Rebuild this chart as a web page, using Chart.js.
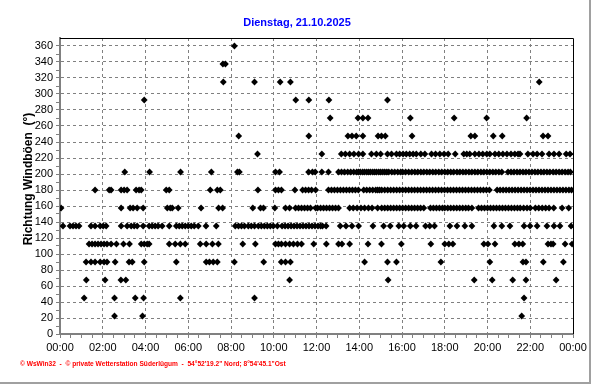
<!DOCTYPE html>
<html><head><meta charset="utf-8">
<script src="https://cdn.jsdelivr.net/npm/chart.js@4.4.1/dist/chart.umd.min.js"></script>
<style>
html,body{margin:0;padding:0;background:#fff;}
#wrap{position:relative;width:592px;height:384px;overflow:hidden;background:#fff;}
#frame{position:absolute;left:0;top:0;width:589px;height:382px;border-right:2px solid #a0a0a0;border-bottom:2px solid #a0a0a0;pointer-events:none;}
canvas{position:absolute;left:0;top:0;}
</style></head><body>
<div id="wrap"><canvas id="c" width="592" height="384"></canvas><div id="frame"></div></div>
<script>
const titleText = 'Dienstag, 21.10.2025';
const yAxisTitle = 'Richtung Windböen  (°)';
const footerText = '\u00A9 WsWin32  -  \u00A9 private Wetterstation Süderlügum  -  54°52\'19.2" Nord; 8°54\'45.1"Ost';
const xTickLabels = ['00:00','02:00','04:00','06:00','08:00','10:00','12:00','14:00','16:00','18:00','20:00','22:00','00:00'];

// times (decimal hours) of the gust direction readings, per direction level
const t360 = [8.16];
const t337 = [7.62, 7.74];
const t315 = [7.64, 9.10, 10.30, 10.78, 22.42];
const t292 = [3.94, 11.03, 11.64, 12.58, 15.32];
const t270 = [12.64, 13.94, 14.17, 14.41, 16.39, 18.44, 19.96, 21.83];
const t247 = [8.36, 11.64, 13.47, 13.66, 13.86, 14.17, 14.88, 15.04, 15.22, 16.47, 19.22, 19.41, 20.27, 20.69, 22.60, 22.83];
const t225 = [9.24, 12.25, 13.16, 13.35, 13.55, 13.75, 13.97, 14.17, 14.57, 14.80, 15.00, 15.32, 15.51, 15.74, 15.89, 16.05, 16.20, 16.36, 16.52, 16.67, 16.88, 17.07, 17.38, 17.57, 17.77, 17.97, 18.16, 18.49, 18.89, 19.03, 19.17, 19.41, 19.60, 19.78, 19.97, 20.11, 20.35, 20.53, 20.72, 20.91, 21.10, 21.28, 21.43, 21.52, 21.89, 22.13, 22.32, 22.55, 22.88, 23.11, 23.35, 23.68, 23.86];
const t202 = [3.03, 4.19, 5.64, 7.08, 8.30, 8.39, 10.08, 10.27, 11.63, 11.81, 11.94, 12.25, 12.56,
  13.03, 13.17, 13.31, 13.46, 13.60, 13.74, 13.88, 13.97, 14.05, 14.16, 14.25, 14.35, 14.44, 14.53, 14.63, 14.72, 14.81, 14.91, 15.00, 15.10, 15.19, 15.29, 15.38, 15.52, 15.66, 15.80, 15.94, 16.03, 16.17, 16.31, 16.46, 16.60, 16.74, 16.88, 17.02, 17.16, 17.30, 17.44, 17.58, 17.72, 17.86, 18.00, 18.14, 18.28, 18.42, 18.57, 18.71, 18.85, 18.99, 19.13, 19.27, 19.41, 19.55, 19.69, 19.83, 19.97, 20.11, 20.25, 20.39, 20.53, 20.67, 20.96, 21.10, 21.24, 21.38, 21.52, 21.66, 21.80, 21.94, 22.08, 22.22, 22.36, 22.50, 22.64, 22.78, 22.92, 23.07, 23.21, 23.35, 23.49, 23.63, 23.77, 23.88];
const t180 = [1.64, 2.30, 2.39, 2.86, 3.00, 3.14, 3.56, 3.70, 3.80, 4.97, 5.11, 7.03, 7.36, 7.50, 9.26, 10.08, 10.22, 10.36, 10.99, 11.35, 11.49, 11.63, 11.77, 11.96,
  12.56, 12.70, 12.84, 12.98, 13.12, 13.26, 13.40, 13.54, 13.68, 13.82, 13.96, 14.21, 14.35, 14.49, 14.63, 14.77, 14.86, 14.95, 15.05, 15.19, 15.33, 15.47, 15.61, 15.75, 15.89, 16.03, 16.17, 16.31, 16.45, 16.59, 16.73, 16.87, 17.01, 17.15, 17.29, 17.43, 17.57, 17.71, 17.85, 17.99, 18.13, 18.27, 18.41, 18.55, 18.69, 18.83, 18.97, 19.11, 19.25, 19.39, 19.53, 19.67, 19.81, 19.95, 20.09, 20.45, 20.59, 20.73, 20.87, 21.01, 21.15, 21.29, 21.43, 21.57, 21.71, 21.85, 21.99, 22.13, 22.27, 22.41, 22.55, 22.69, 22.83, 22.97, 23.11, 23.25, 23.39, 23.53, 23.67, 23.81, 23.93];
const t157 = [0.05, 2.86, 3.28, 3.42, 3.61, 3.89, 5.02, 5.16, 5.25, 5.53, 6.60, 7.42, 7.61, 9.02, 9.38, 9.52, 10.05, 10.55, 10.74, 11.02, 11.16, 11.30, 11.44, 11.58, 11.72, 11.96, 12.05, 12.19, 12.33, 12.47, 12.61, 12.75, 12.89, 13.03, 13.55, 13.72, 13.90, 14.08, 14.25, 14.43, 14.60, 14.86, 15.05, 15.19, 15.33, 15.47, 15.61, 15.75, 15.89, 16.03, 16.17, 16.31, 16.45, 16.59, 16.73, 16.87, 17.02, 17.33, 17.47, 17.61, 17.75, 17.89, 18.00, 18.14, 18.28, 18.42, 18.56, 18.70, 18.84, 18.98, 19.11, 19.27, 19.58, 19.72, 19.86, 20.00, 20.14, 20.28, 20.42, 20.56, 20.70, 20.84, 20.98, 21.12, 21.26, 21.40, 21.53, 21.69, 21.85, 22.00, 22.24, 22.40, 22.56, 22.72, 22.88, 23.10, 23.49, 23.80];
const t135 = [0.14, 0.47, 0.61, 0.75, 0.89, 1.45, 1.64, 1.88, 2.02, 2.16, 2.86, 3.14, 3.33, 3.47, 3.61, 3.89, 4.17, 4.31, 4.45, 4.59, 4.78, 5.11, 5.44, 5.58, 5.72, 5.86, 6.00, 6.14, 6.28, 6.47, 6.83, 7.31, 8.20, 8.35, 8.49, 8.63, 8.81, 8.95, 9.10, 9.28, 9.42, 9.56, 9.70, 9.84, 9.98, 10.17, 10.39, 10.53, 10.67, 10.81, 10.95, 11.09, 11.23, 11.37, 11.51, 11.65, 11.79, 11.93, 12.07, 12.19, 12.28, 12.45, 13.11, 13.38, 13.66, 13.97, 14.64, 15.14, 15.45, 15.85, 16.08, 16.39, 16.66, 17.10, 17.30, 17.52, 18.24, 18.57, 18.94, 19.27, 20.30, 20.67, 21.05, 21.71, 21.99, 22.32, 22.78, 23.11, 23.39, 23.91];
const t112 = [1.36, 1.50, 1.64, 1.78, 1.92, 2.06, 2.20, 2.39, 2.64, 2.97, 3.25, 3.80, 3.94, 4.08, 4.17, 5.11, 5.39, 5.63, 5.86, 6.56, 6.84, 7.13, 7.41, 8.55, 9.14, 10.08, 10.22, 10.36, 10.55, 10.74, 10.92, 11.11, 11.30, 11.87, 12.46, 13.03, 13.19, 13.55, 14.41, 15.04, 15.97, 17.35, 18.00, 18.19, 18.38, 19.83, 20.02, 20.35, 21.28, 21.47, 21.65, 22.83, 22.97, 23.07, 23.63, 23.96];
const t90 = [1.22, 1.45, 1.64, 1.88, 2.06, 2.20, 2.58, 3.23, 3.38, 3.94, 5.44, 6.84, 6.99, 7.17, 7.36, 8.16, 9.53, 10.35, 10.55, 10.78, 14.25, 15.32, 15.74, 17.82, 20.11, 21.66, 21.80, 22.61, 23.55];
const t67 = [1.23, 2.11, 2.85, 3.08, 10.74, 15.35, 19.38, 20.22, 21.18, 21.80, 23.21];
const t45 = [1.13, 2.55, 3.52, 3.91, 5.63, 9.10, 21.71];
const t22 = [2.55, 3.86, 21.60];

const levels = [
  [360, t360], [337.5, t337], [315, t315], [292.5, t292], [270, t270], [247.5, t247],
  [225, t225], [202.5, t202], [180, t180], [157.5, t157], [135, t135], [112.5, t112],
  [90, t90], [67.5, t67], [45, t45], [22.5, t22]
];
const points = [];
levels.forEach(([dir, times]) => times.forEach(t => points.push({x: t, y: dir})));

const FONT = "'Liberation Sans', Arial, sans-serif";

const decor = {
  id: 'decor',
  afterDraw(chart) {
    const {ctx, chartArea: a} = chart;
    ctx.save();
    // top and right frame of the plot
    ctx.strokeStyle = '#000';
    ctx.lineWidth = 1;
    ctx.beginPath();
    ctx.moveTo(a.left, Math.round(a.top) + 0.5);
    ctx.lineTo(Math.round(a.right) + 0.5, Math.round(a.top) + 0.5);
    ctx.lineTo(Math.round(a.right) + 0.5, a.bottom);
    ctx.stroke();
    // title
    ctx.fillStyle = '#0000ff';
    ctx.font = 'bold 11px ' + FONT;
    ctx.textAlign = 'center';
    ctx.textBaseline = 'middle';
    ctx.fillText(titleText, 297, 23);
    // y axis title
    ctx.save();
    ctx.translate(29, 179);
    ctx.rotate(-Math.PI / 2);
    ctx.fillStyle = '#000';
    ctx.font = 'bold 12px ' + FONT;
    ctx.fillText(yAxisTitle, 0, 0);
    ctx.restore();
    // footer
    ctx.fillStyle = '#ff0000';
    ctx.font = 'bold 6.6px ' + FONT;
    ctx.textAlign = 'left';
    ctx.fillText(footerText, 20, 364);
    ctx.restore();
  }
};

new Chart(document.getElementById('c'), {
  type: 'scatter',
  data: {
    datasets: [{
      data: points,
      pointStyle: 'rectRot',
      pointRadius: 3.4,
      pointBorderWidth: 0,
      backgroundColor: '#000',
      borderColor: '#000'
    }]
  },
  options: {
    responsive: false,
    animation: false,
    devicePixelRatio: 1,
    layout: {padding: {left: 0, right: 19, top: 38, bottom: 0}},
    plugins: {legend: {display: false}, title: {display: false}, tooltip: {enabled: false}},
    scales: {
      x: {
        type: 'linear', min: 0, max: 24,
        afterFit(s) { s.height = 50; },
        afterBuildTicks(s) { s.ticks = s.ticks.filter(t => Math.abs(t.value * 2 - Math.round(t.value * 2)) < 1e-6); },
        ticks: {
          stepSize: 0.5, autoSkip: false, maxRotation: 0, padding: 3,
          color: '#000', font: {family: FONT, size: 11},
          callback: v => (Math.abs(v % 2) < 1e-6) ? xTickLabels[Math.round(v / 2)] : ''
        },
        grid: {
          color: c => (c.tick && Math.abs(c.tick.value % 2) < 1e-6 && c.tick.value > 0 && c.tick.value < 24) ? '#808080' : 'rgba(0,0,0,0)',
          lineWidth: 1, tickColor: '#808080', tickLength: 4, drawTicks: true
        },
        border: {color: '#808080', width: 2, dash: [3, 3]}
      },
      y: {
        min: 0, max: 370,
        afterFit(s) { s.width = 60; },
        afterBuildTicks(s) { s.ticks = s.ticks.filter(t => t.value % 10 === 0 && t.value <= 360); },
        ticks: {
          stepSize: 10, autoSkip: false, padding: 3,
          color: '#000', font: {family: FONT, size: 11},
          callback: v => (v % 20 === 0) ? String(v) : ''
        },
        grid: {
          color: c => (c.tick && c.tick.value % 20 === 0 && c.tick.value > 0) ? '#808080' : 'rgba(0,0,0,0)',
          lineWidth: 1, tickColor: '#808080', tickLength: 4, drawTicks: true
        },
        border: {color: '#808080', width: 2, dash: [3, 3]}
      }
    }
  },
  plugins: [decor]
});
</script>
</body></html>
